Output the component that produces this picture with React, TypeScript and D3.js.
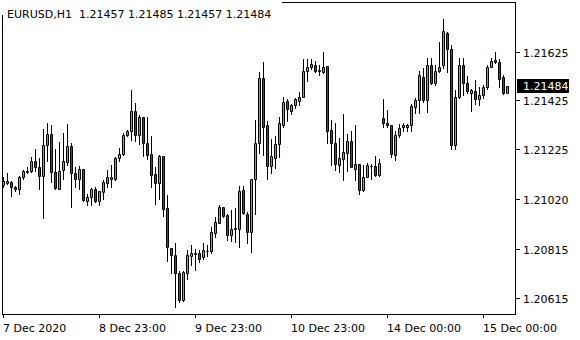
import React, { useEffect } from "react";
import * as d3 from "d3";

const symbol = "EURUSD,H1";

const opens = [
  1.21079, 1.21086, 1.21089, 1.21067, 1.21061, 1.21108, 1.21131, 1.21135, 1.21174, 1.21149,
  1.21116, 1.21242, 1.21286, 1.2113, 1.21061, 1.21138, 1.21171, 1.21237, 1.21125, 1.211,
  1.21141, 1.21012, 1.21026, 1.21059, 1.2101, 1.21048, 1.21086, 1.21102, 1.21102, 1.2119,
  1.21204, 1.21281, 1.213, 1.2138, 1.21283, 1.21356, 1.21248, 1.21204, 1.21122, 1.21086,
  1.21195, 1.20982, 1.20818, 1.20788, 1.20716, 1.20604, 1.20716, 1.20785, 1.20797, 1.20796,
  1.2078, 1.20805, 1.20807, 1.20881, 1.20922, 1.20985, 1.20952, 1.2087, 1.20895, 1.20895,
  1.21056, 1.2096, 1.20886, 1.211, 1.2125, 1.21516, 1.21322, 1.21155, 1.2119, 1.21245,
  1.21324, 1.21421, 1.21382, 1.21404, 1.21423, 1.2144, 1.21546, 1.21563, 1.21569, 1.21549,
  1.21541, 1.21565, 1.21303, 1.21248, 1.2116, 1.21182, 1.21209, 1.21259, 1.21144, 1.21162,
  1.21056, 1.21111, 1.21154, 1.21155, 1.21119, 1.21352, 1.2133, 1.21324, 1.212, 1.21281,
  1.21314, 1.21316, 1.21324, 1.21396, 1.21426, 1.21519, 1.21426, 1.21569, 1.21497, 1.21544,
  1.21569, 1.21703, 1.21634, 1.2124, 1.21437, 1.21569, 1.21497, 1.21456, 1.21462, 1.21431,
  1.21448, 1.21478, 1.21563, 1.2159, 1.21582, 1.21519, 1.21457,
];
const highs = [
  1.2111, 1.21126, 1.21092, 1.21075, 1.21114, 1.21138, 1.21152, 1.21193, 1.21223, 1.2119,
  1.21308, 1.2133, 1.21324, 1.21223, 1.21253, 1.21289, 1.21327, 1.2125, 1.21152, 1.21155,
  1.21144, 1.21042, 1.21064, 1.21067, 1.21053, 1.21097, 1.21138, 1.2116, 1.21193, 1.21229,
  1.21289, 1.21303, 1.21467, 1.21412, 1.21364, 1.21357, 1.21355, 1.21278, 1.21149, 1.21201,
  1.21196, 1.21034, 1.20818, 1.2084, 1.20724, 1.20724, 1.2081, 1.20829, 1.20815, 1.2081,
  1.20837, 1.20831, 1.20905, 1.20944, 1.20993, 1.20987, 1.20957, 1.20974, 1.20982, 1.21075,
  1.21075, 1.20966, 1.21102, 1.21343, 1.21541, 1.21582, 1.21341, 1.21267, 1.21278, 1.21356,
  1.2144, 1.21429, 1.2141, 1.21434, 1.21459, 1.21593, 1.21593, 1.21593, 1.21585, 1.21571,
  1.21623, 1.21566, 1.21344, 1.2133, 1.2127, 1.21368, 1.21286, 1.213, 1.21322, 1.21163,
  1.21158, 1.21166, 1.21163, 1.21196, 1.21182, 1.21429, 1.21387, 1.21324, 1.21299, 1.21327,
  1.2133, 1.21327, 1.2141, 1.21434, 1.21544, 1.21558, 1.21599, 1.21599, 1.21569, 1.21664,
  1.21758, 1.21705, 1.21653, 1.21467, 1.21599, 1.21599, 1.21525, 1.21472, 1.21508, 1.21478,
  1.21486, 1.21569, 1.21599, 1.21623, 1.21596, 1.21528, 1.21485,
];
const lows = [
  1.21068, 1.21083, 1.21031, 1.21053, 1.21042, 1.21102, 1.21125, 1.2113, 1.21133, 1.21061,
  1.20941, 1.21176, 1.21089, 1.21061, 1.2106, 1.21102, 1.21158, 1.20987, 1.21067, 1.21061,
  1.21012, 1.20993, 1.20993, 1.21007, 1.20996, 1.21018, 1.21067, 1.2107, 1.21097, 1.21176,
  1.21201, 1.21278, 1.21262, 1.21259, 1.21245, 1.21196, 1.21184, 1.2107, 1.20999, 1.21018,
  1.20949, 1.20766, 1.20714, 1.20577, 1.20596, 1.20601, 1.20692, 1.20747, 1.2073, 1.2076,
  1.20774, 1.20785, 1.20796, 1.20864, 1.20919, 1.20946, 1.20853, 1.20848, 1.20842, 1.20823,
  1.20957, 1.2084, 1.20801, 1.20957, 1.21207, 1.21201, 1.211, 1.21125, 1.21147, 1.21193,
  1.21314, 1.21338, 1.21368, 1.21393, 1.21404, 1.21438, 1.21503, 1.21555, 1.21541, 1.2153,
  1.21536, 1.21248, 1.2116, 1.21138, 1.2113, 1.21097, 1.21135, 1.21151, 1.21097, 1.21042,
  1.21053, 1.21108, 1.211, 1.21116, 1.21114, 1.21316, 1.21314, 1.21192, 1.21181, 1.21275,
  1.21297, 1.213, 1.213, 1.21374, 1.21374, 1.21418, 1.21377, 1.21492, 1.21486, 1.21541,
  1.21558, 1.21541, 1.21226, 1.21223, 1.21436, 1.21445, 1.21454, 1.2138, 1.2141, 1.21404,
  1.21434, 1.21472, 1.2156, 1.21579, 1.21481, 1.21451, 1.21457,
];
const closes = [
  1.21095, 1.21092, 1.21067, 1.2106, 1.21108, 1.21133, 1.21135, 1.21174, 1.21149, 1.21116,
  1.2124, 1.21286, 1.2113, 1.21064, 1.21135, 1.21174, 1.21237, 1.21125, 1.211, 1.21141,
  1.21015, 1.21029, 1.21059, 1.2101, 1.21051, 1.21089, 1.21108, 1.21108, 1.21188, 1.21204,
  1.21281, 1.213, 1.2138, 1.21283, 1.21356, 1.21248, 1.21201, 1.21119, 1.21086, 1.21196,
  1.20979, 1.20821, 1.20788, 1.20714, 1.20604, 1.20719, 1.20788, 1.20796, 1.20792, 1.20774,
  1.20812, 1.20807, 1.20883, 1.20927, 1.20985, 1.20949, 1.2087, 1.20895, 1.209, 1.21051,
  1.20962, 1.20886, 1.211, 1.21248, 1.21516, 1.21316, 1.21155, 1.21196, 1.21245, 1.2133,
  1.21418, 1.21388, 1.21404, 1.21429, 1.2144, 1.21546, 1.21563, 1.21574, 1.21546, 1.21544,
  1.2156, 1.213, 1.21248, 1.21163, 1.21188, 1.21212, 1.21259, 1.21152, 1.21163, 1.21056,
  1.21111, 1.21158, 1.21155, 1.21119, 1.21166, 1.2133, 1.21324, 1.21204, 1.21281, 1.21311,
  1.21322, 1.21322, 1.21401, 1.21426, 1.21528, 1.21426, 1.21569, 1.21497, 1.21544, 1.21563,
  1.21708, 1.21634, 1.21242, 1.21437, 1.21569, 1.21495, 1.21462, 1.21467, 1.21431, 1.21448,
  1.21478, 1.21563, 1.21588, 1.21582, 1.21511, 1.21457, 1.21484,
];

const timeLabels = ["7 Dec 2020", "8 Dec 23:00", "9 Dec 23:00", "10 Dec 23:00", "14 Dec 00:00", "15 Dec 00:00"];
const timeLabelBars = [0, 24, 48, 72, 96, 120];
const priceTicks = [1.21625, 1.21425, 1.21225, 1.2102, 1.20815, 1.20615];
const priceTickLabels = ["1.21625", "1.21425", "1.21225", "1.21020", "1.20815", "1.20615"];

const FONT = "'DejaVu Sans', Verdana, sans-serif";

export default function App() {
  useEffect(() => {
    document.body.style.margin = "0";
  }, []);

  const W = 580;
  const H = 340;
  const frameL = 2.5;
  const frameR = 515.5;
  const frameT = 2.5;
  const frameB = 314.5;
  const n = opens.length;

  const x = d3.scaleLinear().domain([0, n - 1]).range([3.5, 3.5 + 4 * (n - 1)]);
  const y = d3.scaleLinear().domain([1.20615, 1.21625]).range([297.5, 51.6]);
  const fmt = d3.format(".5f");

  const candles = d3.range(n).map((i) => {
    const o = opens[i], h = highs[i], l = lows[i], c = closes[i];
    const cx = x(i);
    const yh = Math.round(y(h));
    const yl = Math.round(y(l));
    const yo = Math.round(y(o)) + 0.5;
    const yc = Math.round(y(c)) + 0.5;
    const t = Math.min(yo, yc);
    const b = Math.max(yo, yc);
    const up = c >= o;
    return (
      <g key={i}>
        <line x1={cx} x2={cx} y1={yh} y2={yl + 1} stroke="#000" strokeWidth={1} />
        <path
          d={`M${cx - 1},${t}H${cx + 1}V${b}H${cx - 1}Z`}
          fill={up ? "#00ff00" : "#ff0000"}
          stroke="#000"
          strokeWidth={1}
        />
      </g>
    );
  });

  const last = n - 1;
  const header = `${symbol}  ${fmt(opens[last])} ${fmt(highs[last])} ${fmt(lows[last])} ${fmt(closes[last])}`;
  const curY = Math.round(y(closes[last]));

  return (
    <svg
      width={W}
      height={H}
      style={{ position: "absolute", left: 0, top: 0, background: "#fff" }}
      fontFamily={FONT}
      fontSize={11}
    >
      <rect x={0} y={0} width={W} height={H} fill="#fff" />
      {candles}
      <rect
        x={frameL}
        y={frameT}
        width={frameR - frameL}
        height={frameB - frameT}
        fill="none"
        stroke="#000"
        strokeWidth={1}
      />
      <rect x={0} y={0} width={282} height={15} fill="#fff" />
      <text x={7} y={18} fill="#000" style={{ whiteSpace: "pre" }}>
        {header}
      </text>
      {priceTicks.map((p, k) => {
        const yy = Math.round(y(p)) + 0.5;
        return (
          <g key={"p" + k}>
            <line x1={516} x2={520} y1={yy} y2={yy} stroke="#000" />
            <text x={523} y={yy + 4} fill="#000">
              {priceTickLabels[k]}
            </text>
          </g>
        );
      })}
      <rect x={517} y={curY - 7} width={52} height={14} fill="#000" />
      <text x={523} y={curY + 4} fill="#fff">
        {fmt(closes[last])}
      </text>
      {timeLabelBars.map((b, k) => {
        const xx = x(b);
        return (
          <g key={"t" + k}>
            <line x1={xx} x2={xx} y1={315} y2={318} stroke="#000" />
            <text x={xx - 0.5} y={332} fill="#000">
              {timeLabels[k]}
            </text>
          </g>
        );
      })}
    </svg>
  );
}
